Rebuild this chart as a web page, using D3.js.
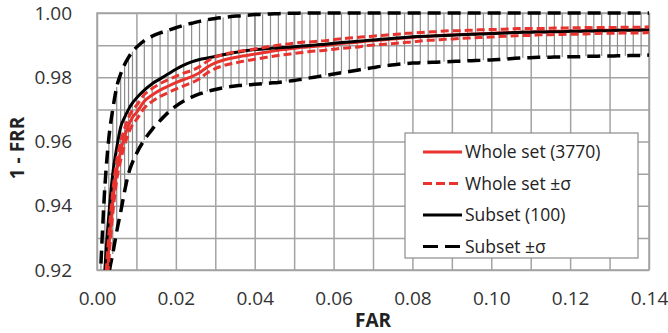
<!DOCTYPE html>
<html>
<head>
<meta charset="utf-8">
<script src="https://cdn.jsdelivr.net/npm/d3@7"></script>
<style>
  body { margin: 0; background: #fff; }
  svg { display: block; font-family: "Open Sans", sans-serif; }
</style>
</head>
<body>
<svg width="668" height="333"></svg>
<script>
// FAR sampling points (dense at the steep start)
var far = [0.001, 0.002, 0.003, 0.004, 0.005, 0.006, 0.007, 0.008, 0.009, 0.010,
  0.012, 0.014, 0.016, 0.018, 0.020, 0.022, 0.024, 0.026, 0.028, 0.030,
  0.032, 0.034, 0.036, 0.038, 0.040, 0.042, 0.044, 0.046, 0.048, 0.050,
  0.052, 0.054, 0.056, 0.058, 0.060, 0.062, 0.064, 0.066, 0.068, 0.070,
  0.072, 0.074, 0.076, 0.078, 0.080, 0.082, 0.084, 0.086, 0.088, 0.090,
  0.092, 0.094, 0.096, 0.098, 0.100, 0.102, 0.104, 0.106, 0.108, 0.110,
  0.112, 0.114, 0.116, 0.118, 0.120, 0.122, 0.124, 0.126, 0.128, 0.130,
  0.132, 0.134, 0.136, 0.138, 0.140]

// whole set (3770) mean 1-FRR
var wholeMean = [0.880, 0.908, 0.927, 0.941, 0.951, 0.957, 0.9615, 0.965, 0.9675, 0.969,
  0.9725, 0.9745, 0.9760, 0.9772, 0.9783, 0.9793, 0.9802, 0.9814, 0.9832, 0.9845,
  0.9853, 0.9859, 0.9864, 0.9868, 0.9872, 0.9876, 0.9880, 0.9884, 0.9887, 0.9890,
  0.9893, 0.9895, 0.9897, 0.9899, 0.9902, 0.9905, 0.9907, 0.9909, 0.9912, 0.9914,
  0.9916, 0.9918, 0.9920, 0.9922, 0.9924, 0.9926, 0.9928, 0.9929, 0.9931, 0.9932,
  0.9933, 0.9934, 0.9935, 0.9936, 0.9937, 0.9938, 0.9939, 0.9940, 0.9941, 0.9941,
  0.9942, 0.9942, 0.9943, 0.9943, 0.9944, 0.9944, 0.9945, 0.9945, 0.9946, 0.9946,
  0.9946, 0.9947, 0.9947, 0.9947, 0.9948]

// whole set standard deviation
var wholeSigma = [0.006, 0.005, 0.004, 0.0035, 0.003, 0.0028, 0.0026, 0.0024, 0.0023, 0.0022,
  0.0021, 0.0020, 0.0020, 0.0020, 0.0020, 0.0020, 0.0019, 0.0019, 0.0018, 0.0018,
  0.0017, 0.0017, 0.0017, 0.0016, 0.0016, 0.0016, 0.0016, 0.0016, 0.0016, 0.0016,
  0.0016, 0.0015, 0.0015, 0.0015, 0.0015, 0.0015, 0.0015, 0.0015, 0.0014, 0.0014,
  0.0014, 0.0014, 0.0014, 0.0014, 0.0014, 0.0013, 0.0013, 0.0013, 0.0013, 0.0013,
  0.0012, 0.0012, 0.0012, 0.0012, 0.0012, 0.0011, 0.0011, 0.0011, 0.0011, 0.0011,
  0.0010, 0.0010, 0.0010, 0.0010, 0.0010, 0.0010, 0.0010, 0.0009, 0.0009, 0.0009,
  0.0009, 0.0009, 0.0009, 0.0009, 0.0009]

// subset (100) mean 1-FRR
var subMean = [0.893, 0.920, 0.937, 0.950, 0.958, 0.9645, 0.9675, 0.970, 0.972, 0.9735,
  0.9760, 0.9780, 0.9795, 0.9810, 0.9825, 0.9838, 0.9848, 0.9855, 0.9860, 0.9865,
  0.9870, 0.9875, 0.9879, 0.9883, 0.9886, 0.9888, 0.9890, 0.9892, 0.9893, 0.9895,
  0.9897, 0.9899, 0.9901, 0.9903, 0.9906, 0.9908, 0.9910, 0.9912, 0.9914, 0.9916,
  0.9918, 0.9920, 0.9922, 0.9924, 0.9926, 0.9927, 0.9928, 0.9929, 0.9930, 0.9931,
  0.9932, 0.9933, 0.9934, 0.9935, 0.9936, 0.9937, 0.9938, 0.9939, 0.9940, 0.9940,
  0.9941, 0.9941, 0.9942, 0.9942, 0.9943, 0.9943, 0.9944, 0.9944, 0.9945, 0.9945,
  0.9946, 0.9946, 0.9946, 0.9947, 0.9947]

// subset mean + sigma
var subUpper = [0.922, 0.946, 0.961, 0.970, 0.977, 0.981, 0.984, 0.9862, 0.9880, 0.9893,
  0.9914, 0.9928, 0.9938, 0.9946, 0.9954, 0.9962, 0.9968, 0.9974, 0.9979, 0.9983,
  0.9986, 0.9989, 0.9991, 0.9993, 0.9995, 0.9996, 0.9997, 0.9998, 0.9999, 0.9999,
  1.0, 1.0, 1.0, 1.0, 1.0, 1.0, 1.0, 1.0, 1.0, 1.0,
  1.0, 1.0, 1.0, 1.0, 1.0, 1.0, 1.0, 1.0, 1.0, 1.0,
  1.0, 1.0, 1.0, 1.0, 1.0, 1.0, 1.0, 1.0, 1.0, 1.0,
  1.0, 1.0, 1.0, 1.0, 1.0, 1.0, 1.0, 1.0, 1.0, 1.0,
  1.0, 1.0, 1.0, 1.0, 1.0]

// subset mean - sigma
var subLower = [0.870, 0.900, 0.918, 0.925, 0.932, 0.938, 0.9445, 0.9500, 0.9535, 0.9562,
  0.9605, 0.9638, 0.9665, 0.9690, 0.9710, 0.9726, 0.9738, 0.9748, 0.9756, 0.9762,
  0.9767, 0.9771, 0.9774, 0.9776, 0.9778, 0.9780, 0.9782, 0.9784, 0.9787, 0.9790,
  0.9794, 0.9798, 0.9802, 0.9806, 0.9810, 0.9814, 0.9818, 0.9822, 0.9826, 0.9830,
  0.9834, 0.9837, 0.9840, 0.9842, 0.9844, 0.9845, 0.9846, 0.9847, 0.9848, 0.9849,
  0.9850, 0.9851, 0.9852, 0.9853, 0.9854, 0.9855, 0.9857, 0.9859, 0.9860, 0.9861,
  0.9862, 0.9862, 0.9863, 0.9863, 0.9864, 0.9864, 0.9865, 0.9865, 0.9866, 0.9866,
  0.9867, 0.9867, 0.9868, 0.9868, 0.9869]

var xTicks = [0, 0.02, 0.04, 0.06, 0.08, 0.10, 0.12, 0.14]
var yTicks = [0.92, 0.94, 0.96, 0.98, 1.00]
var legendNames = ["Whole set (3770)", "Whole set \u00b1\u03c3", "Subset (100)", "Subset \u00b1\u03c3"]

var svg = d3.select("svg"),
	margin = {top: 13, right: 19, bottom: 63, left: 97},
	width = +svg.attr("width") - margin.left - margin.right,
	height = +svg.attr("height") - margin.top - margin.bottom

var red = "#e8332e", grid = "#a3a3a3"

var x = d3.scaleLinear().domain([0, 0.14]).range([0, width])
var y = d3.scaleLinear().domain([0.92, 1.0]).range([height, 0])

var g = svg.append("g").attr("transform", "translate(" + margin.left + "," + margin.top + ")")

svg.append("defs").append("clipPath").attr("id", "plot")
	.append("rect").attr("x", 0).attr("y", -4).attr("width", width + 2).attr("height", height + 4)

// gridlines every 0.01
g.append("g").attr("class", "grid")
	.attr("transform", "translate(0," + height + ")")
	.call(d3.axisBottom(x).tickValues(d3.range(0, 0.1401, 0.01)).tickSize(-height).tickFormat(""))
g.append("g").attr("class", "grid")
	.call(d3.axisLeft(y).tickValues(d3.range(0.92, 1.0001, 0.01)).tickSize(-width).tickFormat(""))
g.selectAll(".grid line").attr("stroke", grid).attr("stroke-width", 1.5)
g.selectAll(".grid .domain").remove()
g.append("rect").attr("width", width).attr("height", height)
	.attr("fill", "none").attr("stroke", grid).attr("stroke-width", 1.5)

// tick labels
var xa = g.append("g").attr("transform", "translate(0," + height + ")")
	.call(d3.axisBottom(x).tickValues(xTicks).tickSize(0).tickPadding(22).tickFormat(d3.format(".2f")))
var ya = g.append("g")
	.call(d3.axisLeft(y).tickValues(yTicks).tickSize(0).tickPadding(25).tickFormat(d3.format(".2f")))
xa.select(".domain").remove()
ya.select(".domain").remove()
svg.selectAll(".tick text").attr("font-family", "Open Sans").attr("font-size", 19).attr("fill", "#333")

// axis titles
svg.append("text").attr("x", margin.left + width / 2).attr("y", 327)
	.attr("text-anchor", "middle").attr("font-weight", "bold").attr("font-size", 19).attr("fill", "#222")
	.text("FAR")
svg.append("text").attr("transform", "translate(24,148) rotate(-90)")
	.attr("text-anchor", "middle").attr("font-weight", "bold").attr("font-size", 19).attr("fill", "#222")
	.text("1 - FRR")

var pts = far.map(function(f, i) {
	return {far: f, wm: wholeMean[i], ws: wholeSigma[i], sm: subMean[i], su: subUpper[i], sl: subLower[i]}
})

var plot = g.append("g").attr("clip-path", "url(#plot)")

// subset error bars
plot.selectAll(".err").data(pts).enter().append("line")
	.attr("x1", function(d) { return x(d.far) }).attr("x2", function(d) { return x(d.far) })
	.attr("y1", function(d) { return y(d.sl) }).attr("y2", function(d) { return y(d.su) })
	.attr("stroke", "#8c8c8c").attr("stroke-width", 1.2)

function curve(acc) {
	return d3.line().curve(d3.curveMonotoneX)
		.x(function(d) { return x(d.far) }).y(function(d) { return y(acc(d)) })
}

function draw(acc, color, w, dash) {
	plot.append("path").datum(pts)
		.attr("d", curve(acc))
		.attr("fill", "none").attr("stroke", color).attr("stroke-width", w)
		.attr("stroke-dasharray", dash)
}

draw(function(d) { return d.su }, "#000", 3.5, "13,7")
draw(function(d) { return d.sl }, "#000", 3.5, "13,7")
draw(function(d) { return d.wm }, red, 3, null)
draw(function(d) { return d.sm }, "#000", 3, null)
draw(function(d) { return d.wm + d.ws }, red, 3, "8,4")
draw(function(d) { return d.wm - d.ws }, red, 3, "8,4")

// legend
var lg = svg.append("g").attr("transform", "translate(405,133)")
lg.append("rect").attr("width", 233).attr("height", 125)
	.attr("fill", "#fff").attr("stroke", "#8c8c8c").attr("stroke-width", 1.2)
var styles = [
	{color: red, dash: null},
	{color: red, dash: "9,4"},
	{color: "#000", dash: null},
	{color: "#000", dash: "15,7"}
]
var item = lg.selectAll(".item").data(legendNames).enter().append("g")
	.attr("transform", function(d, i) { return "translate(0," + (19 + i * 31.5) + ")" })
item.append("line").attr("x1", 18).attr("x2", 57)
	.attr("stroke", function(d, i) { return styles[i].color })
	.attr("stroke-width", 3)
	.attr("stroke-dasharray", function(d, i) { return styles[i].dash })
item.append("text").attr("x", 60).attr("dy", "0.35em")
	.attr("font-size", 17.5).attr("fill", "#222")
	.text(function(d) { return d })
</script>
</body>
</html>
